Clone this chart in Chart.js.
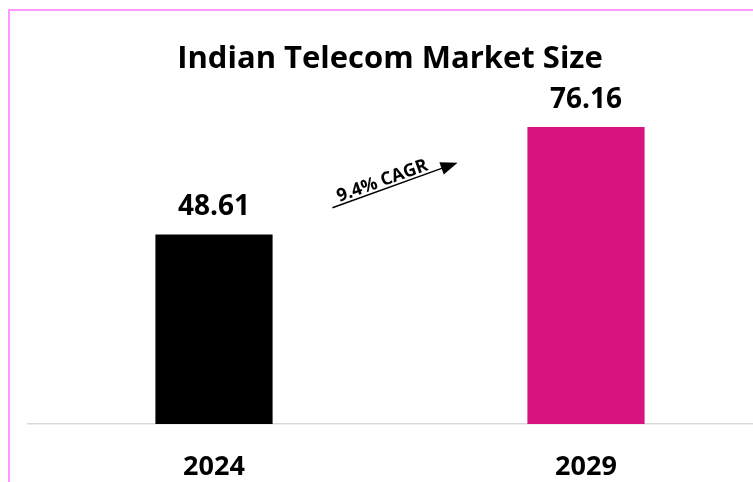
<!DOCTYPE html>
<html>
<head>
<meta charset="utf-8">
<script src="https://cdn.jsdelivr.net/npm/chart.js@4.4.1/dist/chart.umd.min.js"></script>
<style>
  html, body { margin: 0; padding: 0; background: #fff; overflow: hidden; }
  #wrap { position: relative; width: 753px; height: 482px; overflow: hidden; }
  #wrap canvas { position: absolute; left: 0; top: 0; }
  #frame {
    position: absolute; left: 8px; top: 9px; width: 800px; height: 500px;
    border-top: 2px solid #ff99ff; border-left: 2px solid #ff99ff;
  }
</style>
</head>
<body>
<div id="wrap">
  <canvas id="marketChart" width="790" height="482"></canvas>
  <div id="frame"></div>
</div>
<script>
const years = ['2024', '2029'];
const marketSize = [48.61, 76.16];
const barColors = ['#000000', '#d8127e'];
const chartTitle = 'Indian Telecom Market Size';

// crescita annua composta tra il primo e l'ultimo anno
const period = Number(years[years.length - 1]) - Number(years[0]);
const cagr = (Math.pow(marketSize[marketSize.length - 1] / marketSize[0], 1 / period) - 1) * 100;
const cagrText = cagr.toFixed(1) + '% CAGR';

const fontFamily = '"Open Sans", Lato, sans-serif';
const boldFont = (size) => `bold ${size}px ${fontFamily}`;

// titolo, etichette dei valori e freccia CAGR
const overlayPlugin = {
    id: 'overlay',
    afterDatasetsDraw(chart) {
        const { ctx, scales } = chart;
        const meta = chart.getDatasetMeta(0);
        ctx.save();

        ctx.fillStyle = '#000';
        ctx.textAlign = 'center';
        ctx.textBaseline = 'alphabetic';
        ctx.font = boldFont(31);
        ctx.fillText(chartTitle, 390, 68);

        ctx.font = boldFont(28);
        meta.data.forEach((bar, i) => {
            ctx.fillText(marketSize[i].toFixed(2), bar.x, bar.y - 19);
        });

        // freccia tra le due barre
        const midX = (scales.x.getPixelForValue(0) + scales.x.getPixelForValue(1)) / 2 - 5;
        const midY = (scales.y.getPixelForValue(marketSize[0]) + scales.y.getPixelForValue(marketSize[1])) / 2 + 4.5;
        const angle = -19.8 * Math.PI / 180;
        const len = 133;
        ctx.translate(midX, midY);
        ctx.rotate(angle);
        ctx.strokeStyle = '#000';
        ctx.lineWidth = 1.5;
        ctx.beginPath();
        ctx.moveTo(-len / 2, 0);
        ctx.lineTo(len / 2 - 14, 0);
        ctx.stroke();
        ctx.beginPath();
        ctx.moveTo(len / 2, 0);
        ctx.lineTo(len / 2 - 17, -6.5);
        ctx.lineTo(len / 2 - 17, 6.5);
        ctx.closePath();
        ctx.fill();

        ctx.font = boldFont(18);
        ctx.fillText(cagrText, -len / 2 + 56, -3);
        ctx.restore();
    }
};

const ctx = document.getElementById('marketChart').getContext('2d');
const marketChart = new Chart(ctx, {
    type: 'bar',
    data: {
        labels: years,
        datasets: [{
            data: marketSize,
            backgroundColor: barColors,
            barPercentage: 0.315,
            categoryPercentage: 1
        }]
    },
    options: {
        responsive: false,
        animation: false,
        layout: {
            padding: { top: 112, left: 28, right: 18, bottom: 0 }
        },
        plugins: {
            legend: { display: false },
            title: { display: false },
            tooltip: { enabled: false }
        },
        scales: {
            x: {
                grid: { display: false, drawTicks: false },
                border: { display: true, color: '#d9d9d9', width: 1.5 },
                afterFit(scale) {
                    scale.height = 58;  // asse fino al fondo del canvas
                },
                ticks: {
                    color: '#000',
                    padding: 27,
                    font: { family: fontFamily, size: 27, weight: 'bold' }
                }
            },
            y: {
                display: false,
                min: 0,
                max: 80
            }
        }
    },
    plugins: [overlayPlugin]
});
</script>
</body>
</html>
